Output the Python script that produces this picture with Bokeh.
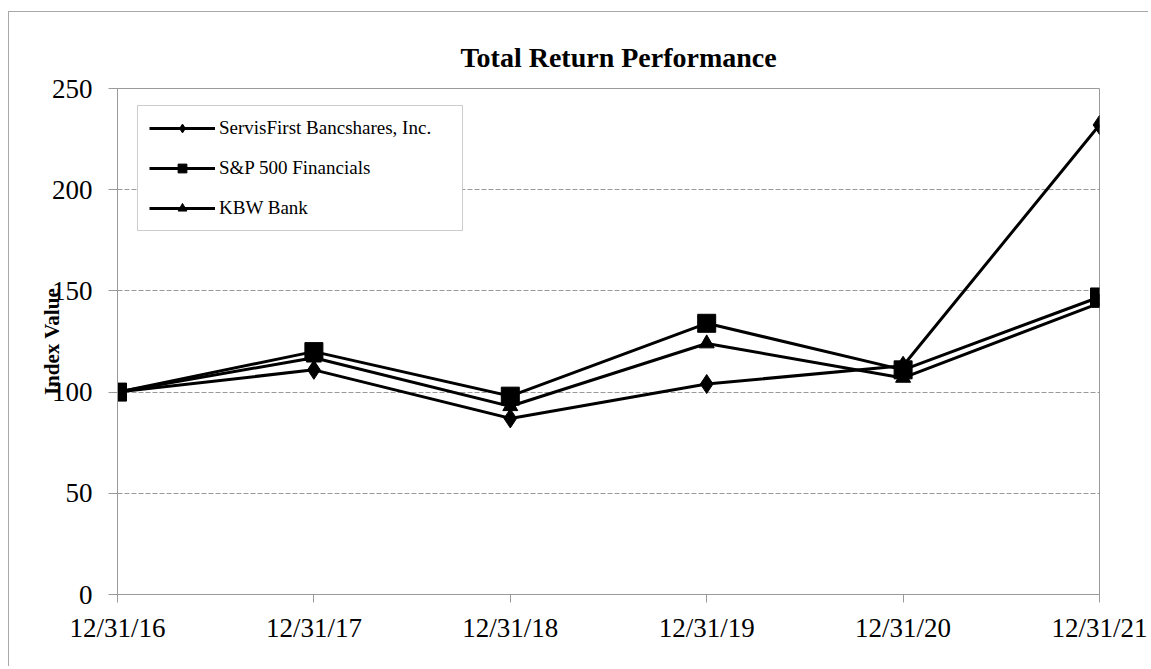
from math import pi
from bokeh.plotting import figure
from bokeh.models import Range1d, FixedTicker, Legend, LegendItem
from bokeh.embed import file_html
from bokeh.resources import INLINE

dates = ["12/31/16", "12/31/17", "12/31/18", "12/31/19", "12/31/20", "12/31/21"]
servisfirst = [100, 111, 87, 104, 113, 232]
sp500_financials = [100, 120, 98, 134, 111, 147]
kbw_bank = [100, 117, 93, 124, 107, 144]
y_ticks = [0, 50, 100, 150, 200, 250]

x = list(range(len(dates)))
FONT = "Liberation Serif"
GREY = "#9a9a9a"

p = figure(width=1140, height=655, output_backend="svg", toolbar_location=None,
           x_range=Range1d(0, len(dates) - 1), y_range=Range1d(y_ticks[0], y_ticks[-1]),
           min_border_left=108, min_border_right=50, min_border_bottom=73, min_border_top=76)
p.margin = (11, 0, 0, 8)
p.styles = {"border-left": "1px solid #a8a8a8", "border-top": "1px solid #a8a8a8"}
p.background_fill_color = "white"
p.border_fill_color = "white"
p.outline_line_color = GREY
p.outline_line_width = 1

p.title.text = "Total Return Performance"
p.title.align = "left"
p.title.offset = 343
p.title.text_font = FONT
p.title.text_font_size = "28px"
p.title.text_font_style = "bold"
p.title.text_color = "black"
p.title.standoff = 32

p.xaxis.ticker = FixedTicker(ticks=x)
p.xaxis.major_label_overrides = {i: d for i, d in enumerate(dates)}
p.yaxis.ticker = FixedTicker(ticks=y_ticks)
for ax in (p.xaxis, p.yaxis):
    ax.axis_line_color = GREY
    ax.axis_line_width = 1
    ax.major_tick_line_color = GREY
    ax.major_tick_in = 0
    ax.minor_tick_line_color = None
    ax.major_label_text_font = FONT
    ax.major_label_text_font_size = "27px"
    ax.major_label_text_color = "black"
p.xaxis.major_tick_out = 8
p.xaxis.major_label_standoff = 10
p.yaxis.major_tick_out = 9
p.yaxis.major_label_standoff = 16

p.yaxis.axis_label = "Index Value"
p.yaxis.axis_label_text_font = FONT
p.yaxis.axis_label_text_font_size = "21px"
p.yaxis.axis_label_text_font_style = "bold"
p.yaxis.axis_label_text_color = "black"
p.yaxis.axis_label_standoff = -15

p.xgrid.visible = False
p.ygrid.grid_line_color = GREY
p.ygrid.grid_line_dash = "5 2"
p.ygrid.grid_line_width = 1

series = [
    ("ServisFirst Bancshares, Inc.", servisfirst, "diamond", 19),
    ("KBW Bank", kbw_bank, "triangle", 15),
    ("S&P 500 Financials", sp500_financials, "square", 18),
]
items = {}
for name, vals, marker, size in series:
    ln = p.line(x, vals, line_color="black", line_width=3)
    mk = p.scatter(x, vals, marker=marker, size=size,
                   fill_color="black", line_color="black")
    items[name] = LegendItem(label=name, renderers=[ln, mk])

legend = Legend(items=[items["ServisFirst Bancshares, Inc."],
                       items["S&P 500 Financials"],
                       items["KBW Bank"]],
                location=(20, 363), padding=11, spacing=18, margin=0,
                glyph_width=66, glyph_height=22, label_height=22, label_width=232,
                label_standoff=4,
                label_text_font=FONT, label_text_font_size="19px",
                label_text_color="black",
                border_line_color=GREY, border_line_width=1.5,
                background_fill_color="white", background_fill_alpha=1)
p.add_layout(legend)

open("out.html", "w").write(file_html(p, INLINE))
